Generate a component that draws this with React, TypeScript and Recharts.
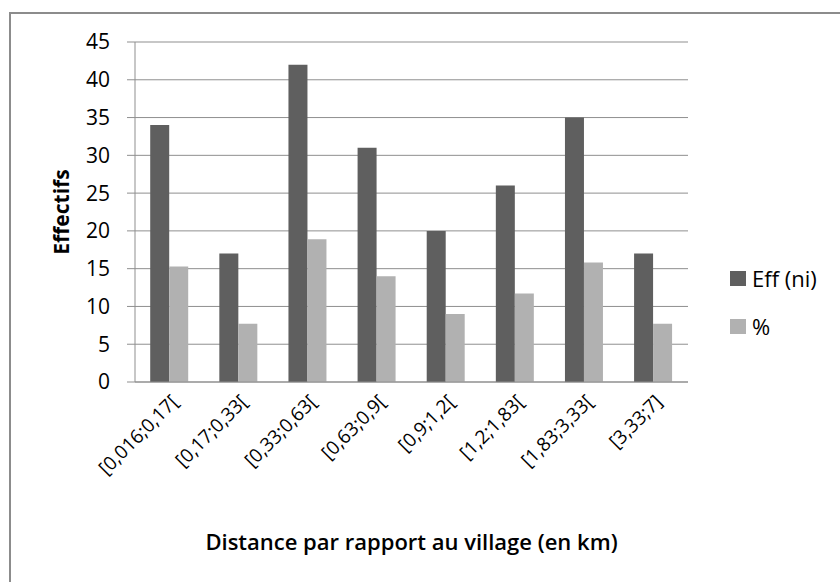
import { Bar, BarChart, CartesianGrid, Label, XAxis, YAxis } from "recharts";

const categories = [
	"[0,016;0,17[",
	"[0,17;0,33[",
	"[0,33;0,63[",
	"[0,63;0,9[",
	"[0,9;1,2[",
	"[1,2;1,83[",
	"[1,83;3,33[",
	"[3,33;7]",
];
const effectifs = [34, 17, 42, 31, 20, 26, 35, 17];
const percents = [15.3, 7.7, 18.9, 14.0, 9.0, 11.7, 15.8, 7.7];
const yTicks = [0, 5, 10, 15, 20, 25, 30, 35, 40, 45];
const legendItems = ["Eff (ni)", "%"];

const data = categories.map((name, i) => ({ name, eff: effectifs[i], pct: percents[i] }));

const FONT = "'Open Sans', sans-serif";
const DARK = "#5f5f5f";
const LIGHT = "#b1b1b1";
const GRID = "#8f8f8f";

function XTick({ x, y, payload }: any) {
	return (
		<text
			x={x + 10}
			y={y + 13}
			textAnchor="end"
			fontSize={19}
			fontFamily={FONT}
			fill="#000"
			transform={`rotate(-45, ${x + 10}, ${y + 13})`}
		>
			{payload.value}
		</text>
	);
}

export default function App() {
	return (
		<div style={{ position: "absolute", left: 0, top: 0, width: 840, height: 582, overflow: "hidden", background: "#fff" }}>
			<div
				style={{
					position: "absolute",
					left: 9,
					top: 12,
					width: 900,
					height: 700,
					borderTop: "2px solid #8c8c8c",
					borderLeft: "2px solid #8c8c8c",
				}}
			/>
			<div style={{ position: "absolute", left: 0, top: 0 }}>
				<BarChart
					width={840}
					height={582}
					data={data}
					margin={{ top: 42, right: 152, left: 45, bottom: 0 }}
					barCategoryGap="22%"
					barGap={0}
				>
					<CartesianGrid vertical={false} stroke={GRID} strokeWidth={1} />
					<XAxis
						dataKey="name"
						interval={0}
						height={200}
						tickLine={false}
						axisLine={{ stroke: GRID }}
						tick={<XTick />}
					>
						<Label
							value="Distance par rapport au village (en km)"
							position="insideBottom"
							offset={32}
							style={{ fontFamily: FONT, fontSize: 22, fontWeight: 600, fill: "#000" }}
						/>
					</XAxis>
					<YAxis
						width={90}
						domain={[0, 45]}
						ticks={yTicks}
						interval={0}
						tickSize={8}
						tickMargin={17}
						tickLine={{ stroke: GRID }}
						axisLine={{ stroke: GRID }}
						tick={{ fontFamily: FONT, fontSize: 21, fill: "#000" }}
						label={{
							content: ({ viewBox }: any) => {
								const cx = viewBox.x + 16;
								const cy = viewBox.y + viewBox.height / 2;
								return (
									<text
										x={cx}
										y={cy}
										textAnchor="middle"
										dominantBaseline="central"
										transform={`rotate(-90, ${cx}, ${cy})`}
										fontFamily={FONT}
										fontSize={21}
										fontWeight={700}
										fill="#000"
									>
										Effectifs
									</text>
								);
							},
						}}
					/>
					<Bar dataKey="eff" name="Eff (ni)" fill={DARK} isAnimationActive={false} />
					<Bar dataKey="pct" name="%" fill={LIGHT} isAnimationActive={false} />
				</BarChart>
			</div>
			<div style={{ position: "absolute", left: 730, top: 254, fontFamily: FONT, fontSize: 22 }}>
				{legendItems.map((label, i) => (
					<div key={label} style={{ display: "flex", alignItems: "center", height: 48 }}>
						<span style={{ width: 16, height: 15, background: i === 0 ? DARK : LIGHT, marginRight: 6 }} />
						<span>{label}</span>
					</div>
				))}
			</div>
		</div>
	);
}
